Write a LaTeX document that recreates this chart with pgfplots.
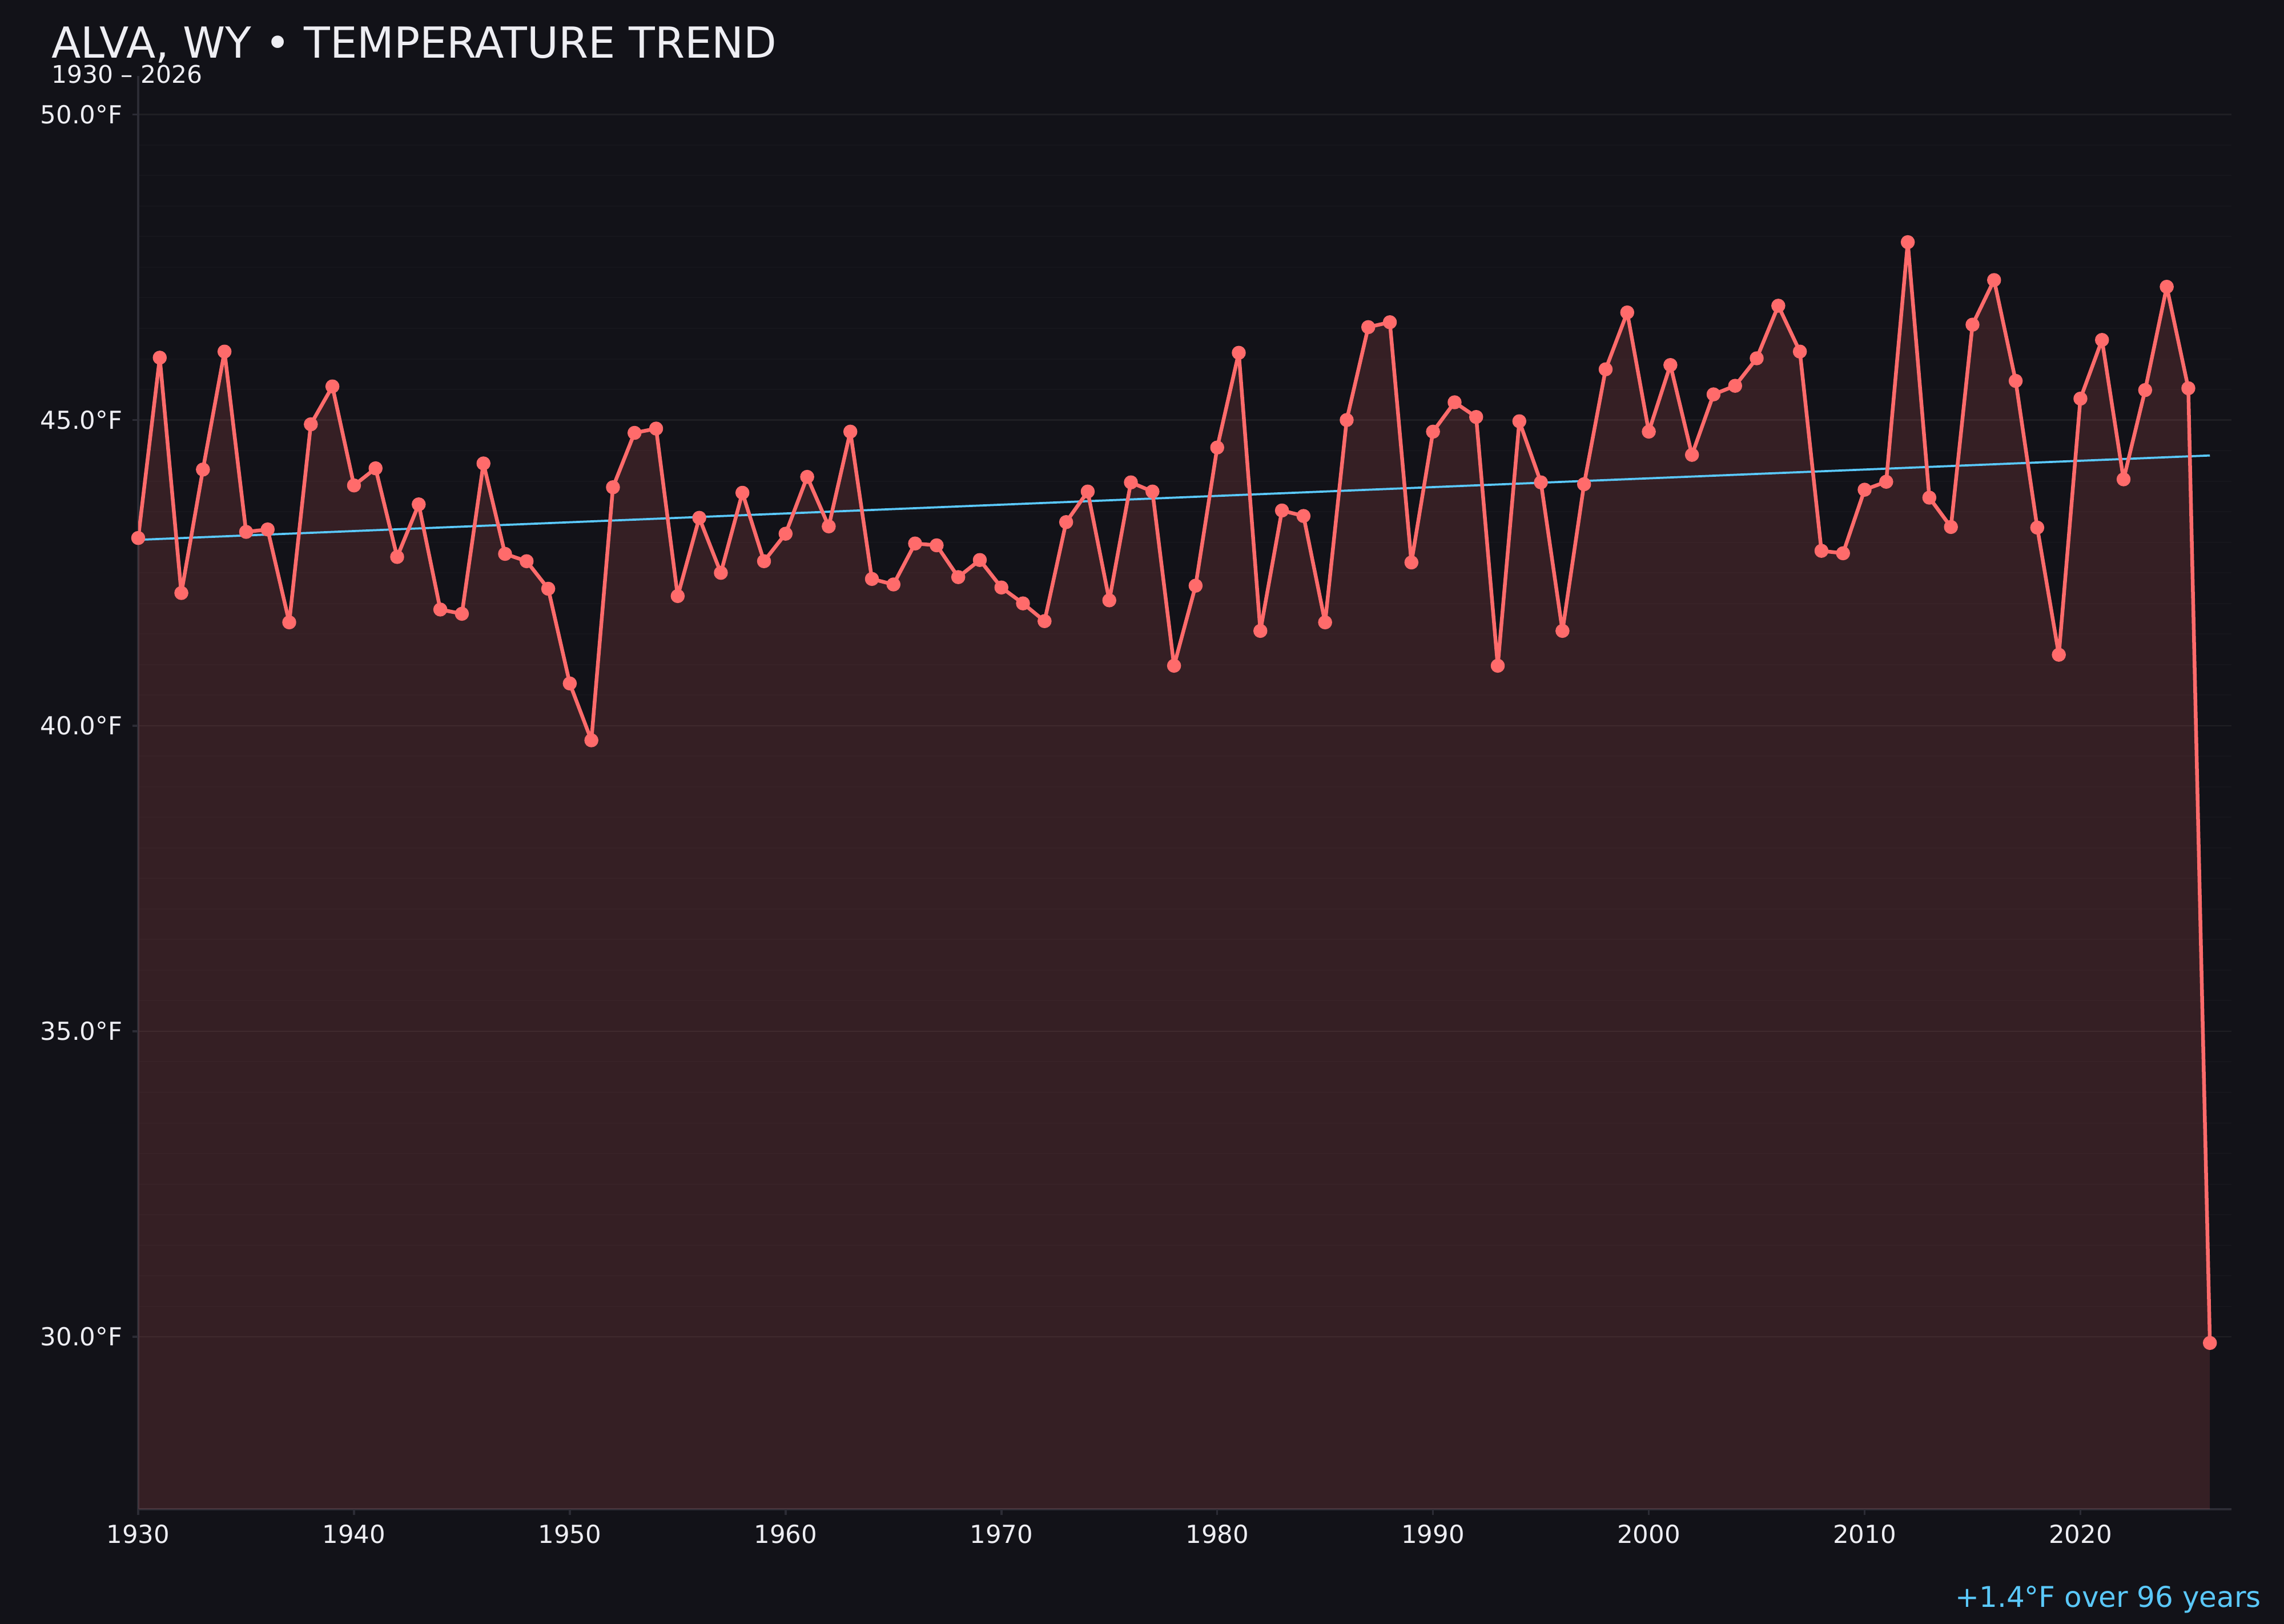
\documentclass[border=0pt]{standalone}
\usepackage{fontspec}
\setmainfont{DejaVu Sans}
\usepackage{pgfplots}
\usepackage{pgfplotstable}
\pgfplotsset{compat=1.18}

\definecolor{bgcol}{HTML}{121218}
\definecolor{linecol}{HTML}{FF6B6B}
\definecolor{trendcol}{HTML}{5AC8FA}
\definecolor{txtcol}{HTML}{EEEEF3}
\definecolor{spinecol}{HTML}{2C2C35}

% annual mean temperature, deg F
\pgfplotstableread{
year temp
1930 43.07
1931 46.02
1932 42.17
1933 44.19
1934 46.12
1935 43.17
1936 43.21
1937 41.69
1938 44.93
1939 45.55
1940 43.93
1941 44.21
1942 42.76
1943 43.62
1944 41.90
1945 41.83
1946 44.29
1947 42.81
1948 42.69
1949 42.24
1950 40.69
1951 39.76
1952 43.90
1953 44.79
1954 44.86
1955 42.12
1956 43.40
1957 42.50
1958 43.81
1959 42.69
1960 43.14
1961 44.07
1962 43.26
1963 44.81
1964 42.40
1965 42.31
1966 42.98
1967 42.95
1968 42.43
1969 42.71
1970 42.26
1971 42.00
1972 41.71
1973 43.33
1974 43.83
1975 42.05
1976 43.98
1977 43.83
1978 40.98
1979 42.29
1980 44.55
1981 46.10
1982 41.55
1983 43.52
1984 43.43
1985 41.69
1986 45.00
1987 46.52
1988 46.60
1989 42.67
1990 44.81
1991 45.29
1992 45.05
1993 40.98
1994 44.98
1995 43.98
1996 41.55
1997 43.95
1998 45.83
1999 46.76
2000 44.81
2001 45.90
2002 44.43
2003 45.42
2004 45.56
2005 46.01
2006 46.87
2007 46.12
2008 42.86
2009 42.82
2010 43.86
2011 43.99
2012 47.91
2013 43.73
2014 43.25
2015 46.56
2016 47.29
2017 45.64
2018 43.24
2019 41.16
2020 45.35
2021 46.31
2022 44.03
2023 45.49
2024 47.18
2025 45.52
2026 29.90
}\temps

\begin{document}
\begin{tikzpicture}[x=1pt,y=1pt]
\fill[bgcol] (0,0) rectangle (800,568.8);

\begin{axis}[
    at={(48.4pt,40.2pt)}, anchor=south west,
    scale only axis,
    width=733.2pt, height=502pt,
    xmin=1930, xmax=2027,
    ymin=27.18, ymax=50.63,
    xtick={1930,1940,...,2020},
    ytick={30,35,40,45,50},
    minor y tick num=9,
    ymajorgrids, yminorgrids,
    major grid style={draw=white, draw opacity=0.055, line width=0.5pt},
    minor grid style={draw=white, draw opacity=0.018, line width=0.4pt},
    axis x line*=bottom, axis y line*=left,
    x axis line style={-}, y axis line style={-},
    axis line style={spinecol, line width=0.7pt},
    tick align=outside,
    major tick length=2pt, minor tick length=0pt,
    tick style={spinecol, line width=0.7pt},
    /pgf/number format/assume math mode=true,
    ticklabel style={font=\fontsize{8.7}{10}\selectfont, text=txtcol},
    xticklabel style={/pgf/number format/1000 sep={}},
    yticklabel={\pgfmathprintnumber[fixed,fixed zerofill,precision=1]{\tick}°F},
    clip=true,
]
\addplot[draw=none, fill=linecol, fill opacity=0.15] table[x=year,y=temp] {\temps} \closedcycle;
\addplot[trendcol, line width=0.75pt] coordinates {(1930,43.04) (2026,44.42)};
\addplot[linecol, line width=1.3pt, line join=round, mark=*, mark size=1.8pt,
    mark options={fill=linecol, draw=none}] table[x=year,y=temp] {\temps};
\end{axis}

\node[anchor=base west, inner sep=0pt, text=txtcol, font=\fontsize{15}{18}\selectfont]
    at (17.8,548.4) {ALVA, WY • TEMPERATURE TREND};
\node[anchor=base west, inner sep=0pt, text=txtcol, font=\fontsize{8.5}{10}\selectfont]
    at (17.8,539.6) {1930 – 2026};
\node[anchor=base east, inner sep=0pt, text=trendcol, font=\fontsize{10}{12}\selectfont]
    at (792.2,5.8) {+1.4°F over 96 years};

\pgfresetboundingbox
\path (0,0) rectangle (800,568.8);
\end{tikzpicture}
\end{document}
